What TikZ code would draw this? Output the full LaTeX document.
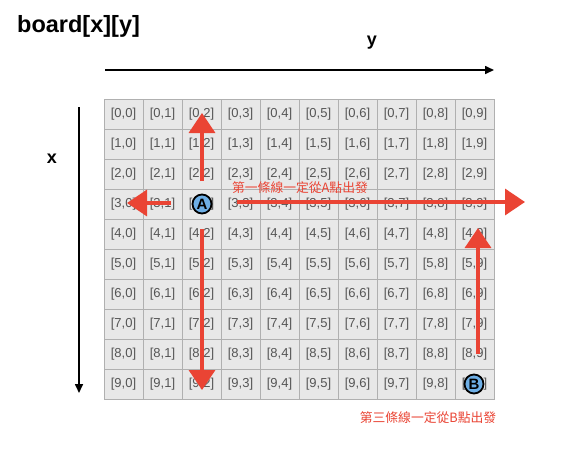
\documentclass[tikz,border=0pt]{standalone}
\usepackage{fontspec}
\setmainfont{Liberation Sans}
\newfontfamily\cjk{Noto Sans CJK TC}
\usetikzlibrary{arrows.meta}
\definecolor{cellfill}{RGB}{232,232,232}
\definecolor{cellborder}{RGB}{176,176,176}
\definecolor{celltext}{RGB}{85,85,85}
\definecolor{arrowred}{RGB}{234,68,52}
\definecolor{ablue}{RGB}{110,175,230}
\tikzset{
  cell/.style={draw=cellborder, fill=cellfill, line width=0.8pt, minimum width=39pt, minimum height=30pt, inner sep=0pt, text=celltext, font=\fontsize{13}{13}\selectfont},
  axisarrow/.style={draw=black, line width=1.6pt, -{Triangle[length=9pt,width=8pt]}},
  redarrow/.style={draw=arrowred, line width=3.4pt, -{Triangle[length=20pt,width=26pt]}},
  endpoint/.style={circle, draw=black, line width=1.8pt, fill=ablue, minimum size=19pt, inner sep=0pt, font=\bfseries\fontsize{15}{15}\selectfont},
  redlabel/.style={text=arrowred, font=\cjk\fontsize{12.8}{12.8}\selectfont, inner sep=0pt},
  axislabel/.style={font=\bfseries\fontsize{18}{18}\selectfont, inner sep=0pt}
}
\begin{document}
\begin{tikzpicture}[x=1pt,y=-1pt]
\useasboundingbox (0,0) rectangle (562,450);
\fill[white] (0,0) rectangle (562,450);
\node[anchor=base west, inner sep=0pt, font=\bfseries\fontsize{23.5}{23.5}\selectfont] (title) at (17,32) {board[x][y]};
\node[axislabel] (ylab) at (372,43) {y};
\node[axislabel] (xlab) at (52,159) {x};
\coordinate (ys) at (105,70);
\coordinate (ye) at (494,70);
\coordinate (xs) at (79,107);
\coordinate (xe) at (79,393);
\draw[axisarrow] (ys) -- (ye);
\draw[axisarrow] (xs) -- (xe);
\foreach \i in {0,...,9} {
  \foreach \j in {0,...,9} {
    \node[cell] (c-\i-\j) at ({123.5+39*\j},{114+30*\i}) {[\i,\j]};
  }
}
\coordinate (upS) at (202,181);
\coordinate (upE) at (202,113);
\coordinate (dnS) at (202,229);
\coordinate (dnE) at (202,390);
\coordinate (ltS) at (171,203);
\coordinate (ltE) at (127,203);
\coordinate (rtS) at (237,202);
\coordinate (rtE) at (525,202);
\coordinate (bS) at (478,354);
\coordinate (bE) at (478,228);
\draw[redarrow] (upS) -- (upE);
\draw[redarrow] (dnS) -- (dnE);
\draw[redarrow] (ltS) -- (ltE);
\draw[redarrow] (rtS) -- (rtE);
\draw[redarrow] (bS) -- (bE);
\node[endpoint] (A) at (202,204) {A};
\node[endpoint] (B) at (474,384) {B};
\node[redlabel] (lab1) at (300,188) {第一條線一定從A點出發};
\node[redlabel] (lab2) at (428,418) {第三條線一定從B點出發};
\end{tikzpicture}
\end{document}
